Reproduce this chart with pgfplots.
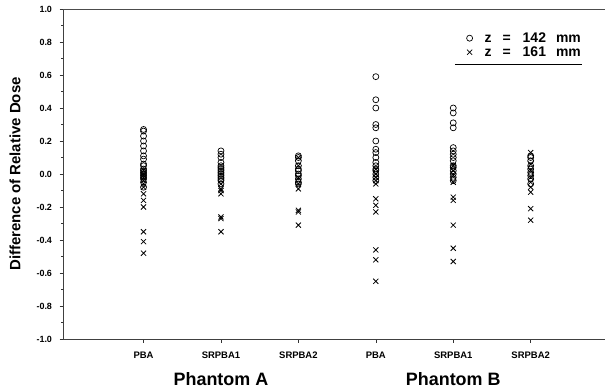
\documentclass[border=0pt]{standalone}
\usepackage{fontspec}
\setmainfont{Liberation Sans}
\usepackage{pgfplots}
\pgfplotsset{compat=1.18}
\begin{document}
\begin{tikzpicture}
\begin{axis}[
  scale only axis,
  width=542bp, height=330bp,
  xmin=-0.04, xmax=6.96,
  ymin=-1.0, ymax=1.0,
  axis lines*=left,
  axis line style={line width=0.5pt, black!75},
  xtick={1,2,3,4,5,6},
  xticklabels={PBA,SRPBA1,SRPBA2,PBA,SRPBA1,SRPBA2},
  ytick={-1,-0.8,...,1.0},
  minor y tick num=1,
  tick align=outside,
  major tick length=3.5bp,
  minor tick length=2bp,
  tick style={black!80, line width=0.4pt},
  /pgf/number format/assume math mode=true,
  /pgf/number format/fixed,
  /pgf/number format/fixed zerofill,
  /pgf/number format/precision=1,
  yticklabel style={font=\fontsize{9}{10}\selectfont\bfseries, xshift=-4bp},
  xticklabel style={font=\fontsize{9.5}{10}\selectfont\bfseries, yshift=-6bp},
  ylabel={Difference of Relative Dose},
  ylabel style={font=\fontsize{15}{17}\selectfont\bfseries, at={(rel axis cs:0,0.5)}, anchor=center, yshift=48bp},
  legend style={draw=none, fill=none, at={(rel axis cs:1,1)}, anchor=north east,
    xshift=-9bp, yshift=-21bp,
    font=\fontsize{14}{14}\selectfont\bfseries, row sep=2bp,
    nodes={inner xsep=12bp, inner ysep=1bp, text height=9.5bp, text depth=0.5bp}},
  legend cell align=left,
  clip=false,
]
\coordinate (bl) at (rel axis cs:0,0);
\coordinate (tr) at (rel axis cs:1,1);
\draw[black!70, line width=0.5pt] (rel axis cs:0,1) -- (rel axis cs:1,1);
\addplot[only marks, mark=o, mark size=3bp, black, line width=0.7pt] coordinates {
(1,0.27) (1,0.26) (1,0.23) (1,0.20) (1,0.17) (1,0.14) (1,0.11) (1,0.09) (1,0.06) (1,0.05) (1,0.03) (1,0.02) (1,0.01) (1,0.00) (1,-0.01) (1,-0.02) (1,-0.03) (1,-0.05) (1,-0.08)
(2,0.14) (2,0.12) (2,0.10) (2,0.07) (2,0.05) (2,0.04) (2,0.03) (2,0.02) (2,0.01) (2,0.00) (2,-0.01) (2,-0.02) (2,-0.03) (2,-0.04) (2,-0.06)
(3,0.11) (3,0.10) (3,0.08) (3,0.05) (3,0.03) (3,0.02) (3,0.00) (3,-0.01) (3,-0.03) (3,-0.05) (3,-0.06)
(4,0.59) (4,0.45) (4,0.40) (4,0.30) (4,0.28) (4,0.20) (4,0.15) (4,0.13) (4,0.10) (4,0.07) (4,0.05) (4,0.03) (4,0.02) (4,0.00) (4,-0.02) (4,-0.04)
(5,0.40) (5,0.37) (5,0.31) (5,0.28) (5,0.16) (5,0.14) (5,0.12) (5,0.10) (5,0.08) (5,0.05) (5,0.04) (5,0.02) (5,0.00) (5,-0.02) (5,-0.04)
(6,0.11) (6,0.10) (6,0.08) (6,0.05) (6,0.03) (6,0.01) (6,-0.01) (6,-0.03) (6,-0.06)
};
\addlegendentry{z\hspace{11bp}=\hspace{12bp}142\hspace{10bp}mm}
\addplot[only marks, mark=x, mark size=3.6bp, black, line width=0.8pt] coordinates {
(1,0.02) (1,0.00) (1,-0.01) (1,-0.02) (1,-0.04) (1,-0.06) (1,-0.08) (1,-0.12) (1,-0.16) (1,-0.20) (1,-0.35) (1,-0.41) (1,-0.48)
(2,-0.06) (2,-0.09) (2,-0.10) (2,-0.12) (2,-0.26) (2,-0.27) (2,-0.35)
(3,0.10) (3,0.05) (3,-0.02) (3,-0.06) (3,-0.09) (3,-0.22) (3,-0.23) (3,-0.31)
(4,0.03) (4,0.00) (4,-0.02) (4,-0.04) (4,-0.06) (4,-0.15) (4,-0.19) (4,-0.23) (4,-0.46) (4,-0.52) (4,-0.65)
(5,0.05) (5,0.02) (5,-0.01) (5,-0.05) (5,-0.14) (5,-0.16) (5,-0.31) (5,-0.45) (5,-0.53)
(6,0.13) (6,0.06) (6,0.02) (6,-0.02) (6,-0.05) (6,-0.08) (6,-0.11) (6,-0.21) (6,-0.28)
};
\addlegendentry{z\hspace{11bp}=\hspace{12bp}161\hspace{10bp}mm}
\draw[black, line width=0.6pt] (axis cs:5.02,0.667) -- (axis cs:6.66,0.667);
\node[font=\fontsize{18}{20}\selectfont\bfseries, anchor=base] at ([yshift=-46bp]axis cs:2,-1) {Phantom A};
\node[font=\fontsize{18}{20}\selectfont\bfseries, anchor=base] at ([yshift=-46bp]axis cs:5,-1) {Phantom B};
\end{axis}
\pgfresetboundingbox
\path[use as bounding box] ([xshift=-63bp,yshift=-52bp]bl) rectangle ([yshift=9bp]tr);
\end{tikzpicture}
\end{document}
